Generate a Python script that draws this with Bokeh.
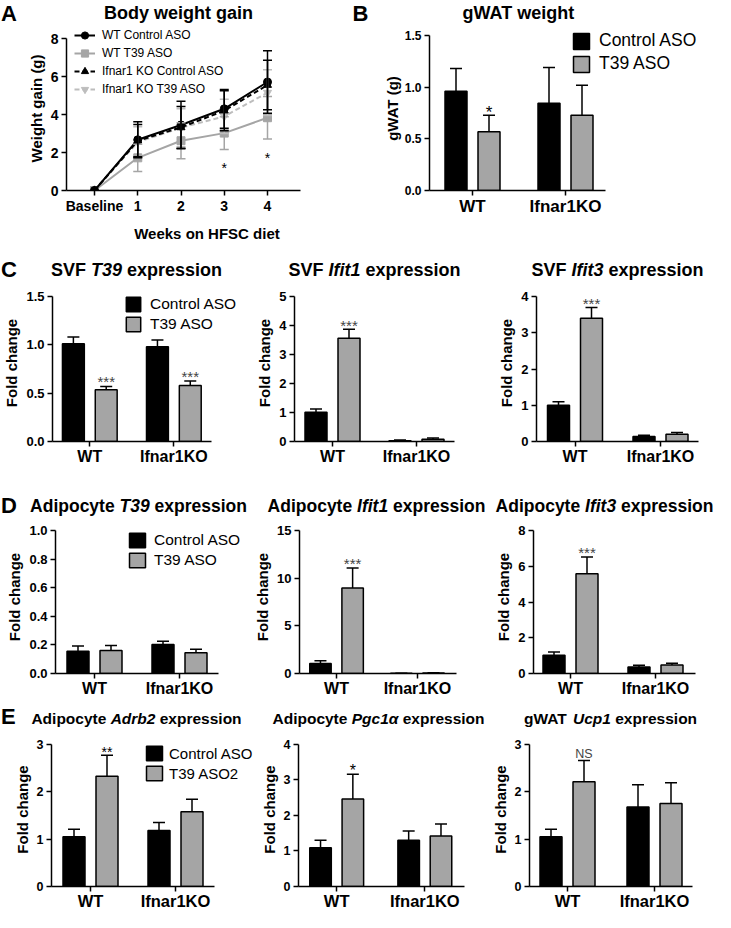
from bokeh.plotting import figure
from bokeh.layouts import column, row
from bokeh.models import (ColumnDataSource, Whisker, TeeHead, Label, Legend, LegendItem,
                          FixedTicker, PrintfTickFormatter, Range1d)
from bokeh.embed import file_html
from bokeh.resources import INLINE

FONT = "Liberation Sans"
GRAY = "#a5a5a5"
LGRAY = "#bdbdbd"
SIGC = "#444444"
PAGE_W = 715

# ---------------- data ----------------
groups = ["WT", "Ifnar1KO"]
treatments = ["Control ASO", "T39 ASO"]
treatments_e = ["Control ASO", "T39 ASO2"]

# Panel A: body weight gain (g)
weeks = ["Baseline", "1", "2", "3", "4"]
line_labels = ["WT Control ASO", "WT T39 ASO", "Ifnar1 KO Control ASO", "Ifnar1 KO T39 ASO"]
wt_ctrl_mean = [0, 2.67, 3.45, 4.30, 5.71]
wt_ctrl_err = [0, 0.95, 1.25, 1.02, 1.65]
wt_t39_mean = [0, 1.72, 2.62, 3.02, 3.83]
wt_t39_err = [0, 0.72, 0.95, 0.86, 1.12]
ko_ctrl_mean = [0, 2.62, 3.32, 4.20, 5.55]
ko_ctrl_err = [0, 0.85, 1.10, 1.05, 1.30]
ko_t39_mean = [0, 2.55, 3.30, 3.90, 5.15]
ko_t39_err = [0, 0.80, 1.00, 0.90, 1.20]
weeks_sig = ["", "", "", "*", "*"]

# Panel B: gWAT weight (g)
gwat_ctrl = [0.96, 0.845]
gwat_ctrl_err = [0.22, 0.345]
gwat_t39 = [0.568, 0.729]
gwat_t39_err = [0.16, 0.29]
gwat_sig = ["*", ""]

# Panel C: SVF expression (fold change)
svf_t39_ctrl = [1.01, 0.98]
svf_t39_ctrl_err = [0.07, 0.07]
svf_t39_t39 = [0.535, 0.58]
svf_t39_t39_err = [0.035, 0.045]
svf_t39_sig = ["***", "***"]

svf_ifit1_ctrl = [1.01, 0.03]
svf_ifit1_ctrl_err = [0.11, 0.02]
svf_ifit1_t39 = [3.56, 0.08]
svf_ifit1_t39_err = [0.31, 0.04]
svf_ifit1_sig = ["***", ""]

svf_ifit3_ctrl = [1.00, 0.14]
svf_ifit3_ctrl_err = [0.10, 0.03]
svf_ifit3_t39 = [3.40, 0.20]
svf_ifit3_t39_err = [0.30, 0.05]
svf_ifit3_sig = ["***", ""]

# Panel D: adipocyte expression (fold change)
adi_t39_ctrl = [0.155, 0.203]
adi_t39_ctrl_err = [0.038, 0.022]
adi_t39_t39 = [0.161, 0.145]
adi_t39_t39_err = [0.034, 0.024]
adi_t39_sig = ["", ""]

adi_ifit1_ctrl = [1.05, 0.02]
adi_ifit1_ctrl_err = [0.30, 0.01]
adi_ifit1_t39 = [8.96, 0.05]
adi_ifit1_t39_err = [2.10, 0.03]
adi_ifit1_sig = ["***", ""]

adi_ifit3_ctrl = [1.02, 0.37]
adi_ifit3_ctrl_err = [0.18, 0.09]
adi_ifit3_t39 = [5.58, 0.48]
adi_ifit3_t39_err = [0.94, 0.10]
adi_ifit3_sig = ["***", ""]

# Panel E
adrb2_ctrl = [1.05, 1.18]
adrb2_ctrl_err = [0.16, 0.17]
adrb2_t39 = [2.33, 1.58]
adrb2_t39_err = [0.44, 0.26]
adrb2_sig = ["**", ""]

pgc1a_ctrl = [1.09, 1.30]
pgc1a_ctrl_err = [0.21, 0.26]
pgc1a_t39 = [2.46, 1.42]
pgc1a_t39_err = [0.70, 0.34]
pgc1a_sig = ["*", ""]

ucp1_ctrl = [1.05, 1.68]
ucp1_ctrl_err = [0.16, 0.47]
ucp1_t39 = [2.21, 1.75]
ucp1_t39_err = [0.45, 0.44]
ucp1_sig = ["NS", ""]

# ---------------- helpers ----------------
HB = dict(zip(" ABCDEFGHIJKLMNOPQRSTUVWXYZ",
              [278, 722, 722, 722, 722, 667, 611, 778, 722, 278, 556, 722, 611, 833,
               722, 778, 667, 778, 722, 667, 611, 722, 667, 944, 667, 667, 611]))
HB.update(dict(zip("abcdefghijklmnopqrstuvwxyz",
                   [556, 611, 556, 611, 556, 333, 611, 611, 278, 278, 556, 278, 889,
                    611, 611, 611, 611, 389, 556, 333, 611, 556, 778, 556, 556, 500])))
for d in "0123456789":
    HB[d] = 556
HB["\u03b1"] = 620
HB["("] = 333
HB[")"] = 333


def tw(s, size):
    return sum(HB.get(c, 556) for c in s) * size / 1000.0


def make_fig(box, frame, xr, yr):
    """box: figure rectangle in page px; frame: (left, top, right, bottom) of the axes."""
    x0, y0, x1, y1 = box
    L, T, R, B = frame
    sx = (R - L) / (xr[1] - xr[0])
    sy = (B - T) / (yr[1] - yr[0])
    p = figure(width=x1 - x0, height=y1 - y0, title=None,
               x_range=Range1d(xr[0], xr[1] + (x1 - R) / sx),
               y_range=Range1d(yr[0], yr[1] + (T - y0) / sy),
               output_backend="svg", toolbar_location=None, tools="",
               min_border_left=L - x0, min_border_right=0,
               min_border_top=0, min_border_bottom=y1 - B)
    p.outline_line_color = None
    p.xgrid.visible = False
    p.ygrid.visible = False
    p.background_fill_color = "white"
    p.border_fill_color = "white"
    p.xaxis.bounds = tuple(xr)
    p.yaxis.bounds = tuple(yr)
    return p


def style_axis(ax, tick_size, standoff=3):
    ax.axis_line_width = 1.5
    ax.axis_line_color = "black"
    ax.major_tick_line_width = 1.5
    ax.major_tick_line_color = "black"
    ax.major_tick_out = 5
    ax.major_tick_in = 0
    ax.minor_tick_line_color = None
    ax.major_label_text_font = FONT
    ax.major_label_text_font_style = "bold"
    ax.major_label_text_font_size = tick_size
    ax.major_label_text_color = "black"
    ax.major_label_standoff = standoff
    ax.axis_label_text_font = FONT
    ax.axis_label_text_font_style = "bold"
    ax.axis_label_text_font_size = "15px"
    ax.axis_label_text_color = "black"
    ax.axis_label_standoff = 3


def header(y0, y1):
    h = figure(width=PAGE_W, height=y1 - y0, title=None,
               x_range=Range1d(8, 8 + PAGE_W), y_range=Range1d(-y1, -y0),
               x_axis_location=None, y_axis_location=None,
               output_backend="svg", toolbar_location=None, tools="",
               min_border_left=0, min_border_right=0, min_border_top=0, min_border_bottom=0)
    h.outline_line_color = None
    h.xgrid.visible = False
    h.ygrid.visible = False
    return h


def add_text(h, text, x, y, size, style="bold"):
    h.add_layout(Label(x=x, y=-y, text=text, text_font=FONT, text_font_size=f"{size}px",
                       text_font_style=style, text_align="left", text_baseline="middle",
                       text_color="black"))


def add_title(h, segs, cx, cy, size):
    sp = tw(" ", size)
    total = sum(tw(s, size) for s, _ in segs) + sp * (len(segs) - 1)
    x = cx - total / 2
    for s, it in segs:
        add_text(h, s, x, cy, size, style="bold italic" if it else "bold")
        x += tw(s, size) + sp


def bar_panel(box, frame, wt_px, ko_px, ymax, yticks, yfmt, ctrl, ctrl_err, t39, t39_err,
              sig, sig_style, tick_size, cat_size, cat_standoff,
              ylabel="Fold change", legend=None, leg_labels=treatments):
    L, T, R, B = frame
    s = (ko_px - wt_px) / 2.0
    xr = (1 - (wt_px - L) / s, 3 + (R - ko_px) / s)
    p = make_fig(box, frame, xr, (0, ymax))
    gx = [1 + 2 * i for i in range(len(groups))]
    off = 16.5 / s
    bw = 22.0 / s
    rends = []
    for vals, errs, color, sgn in [(ctrl, ctrl_err, "black", -1), (t39, t39_err, GRAY, 1)]:
        src = ColumnDataSource(dict(x=[g + sgn * off for g in gx], top=vals,
                                    upper=[v + e for v, e in zip(vals, errs)]))
        r = p.vbar(x="x", top="top", width=bw, source=src, fill_color=color,
                   line_color="black", line_width=1.5)
        p.add_layout(Whisker(source=src, base="x", upper="upper", lower="top",
                             line_width=1.5, line_color="black",
                             upper_head=TeeHead(size=12, line_width=1.5, line_color="black"),
                             lower_head=None, level="annotation"))
        rends.append(r)
    ssize, soff, scolor, sstyle = sig_style
    for i, sg in enumerate(sig):
        if sg:
            p.add_layout(Label(x=gx[i] + off, y=t39[i] + t39_err[i], y_offset=soff, text=sg,
                               text_font=FONT, text_font_size=f"{ssize}px",
                               text_font_style=sstyle, text_color=scolor,
                               text_align="center", text_baseline="alphabetic"))
    style_axis(p.xaxis[0], f"{cat_size}px", cat_standoff)
    style_axis(p.yaxis[0], f"{tick_size}px", 3)
    p.xaxis.ticker = FixedTicker(ticks=gx)
    p.xaxis.major_label_overrides = {g: name for g, name in zip(gx, groups)}
    p.yaxis.ticker = FixedTicker(ticks=yticks)
    p.yaxis.formatter = PrintfTickFormatter(format=yfmt)
    p.yaxis.axis_label = ylabel
    if legend is not None:
        vx, vy, gw, gh, spacing, stand, fsize = legend
        lg = Legend(items=[LegendItem(label=leg_labels[0], renderers=[rends[0]]),
                           LegendItem(label=leg_labels[1], renderers=[rends[1]])],
                    location=(vx, vy), glyph_width=gw, glyph_height=gh, label_height=gh,
                    spacing=spacing, label_standoff=stand, padding=0, margin=0,
                    border_line_color=None, background_fill_alpha=0,
                    label_text_font=FONT, label_text_font_size=f"{fsize}px",
                    label_text_color="black")
        p.add_layout(lg)
    return p


# ---------------- Row A/B ----------------
hAB = header(8, 34)
add_text(hAB, "A", 8.5, 21, 22)
add_title(hAB, [("Body weight gain", False)], 186, 20, 18)
add_text(hAB, "B", 360, 21, 22)
add_title(hAB, [("gWAT weight", False)], 527, 20, 18)

frA = (74, 46, 308, 198)
xs = list(range(len(weeks)))
sA = 43.25
pA = make_fig((8, 34, 355, 252), frA, (-(102 - 74) / sA, 4 + (308 - 275) / sA), (0, 8))
series = {
    line_labels[0]: (wt_ctrl_mean, wt_ctrl_err, "black", "solid", "circle", 8),
    line_labels[1]: (wt_t39_mean, wt_t39_err, GRAY, "solid", "square", 8),
    line_labels[2]: (ko_ctrl_mean, ko_ctrl_err, "black", "5 3", "triangle", 8),
    line_labels[3]: (ko_t39_mean, ko_t39_err, LGRAY, "5 3", "inverted_triangle", 8),
}
draw_order = [line_labels[1], line_labels[3], line_labels[2], line_labels[0]]
rendA = {}
for name in draw_order:
    m, e, c, dash, mk, ms = series[name]
    src = ColumnDataSource(dict(x=xs, y=m))
    lr = pA.line("x", "y", source=src, line_color=c, line_width=2, line_dash=dash)
    esrc = ColumnDataSource(dict(x=[x for x, ee in zip(xs, e) if ee > 0],
                                 lo=[mm - ee for mm, ee in zip(m, e) if ee > 0],
                                 hi=[mm + ee for mm, ee in zip(m, e) if ee > 0]))
    pA.add_layout(Whisker(source=esrc, base="x", upper="hi", lower="lo", line_color=c,
                          line_width=1.5,
                          upper_head=TeeHead(size=9, line_width=1.5, line_color=c),
                          lower_head=TeeHead(size=9, line_width=1.5, line_color=c),
                          level="annotation"))
    sr = pA.scatter("x", "y", source=src, marker=mk, size=ms, fill_color=c, line_color=c)
    rendA[name] = [lr, sr]
for i, sg in enumerate(weeks_sig):
    if sg:
        pA.add_layout(Label(x=xs[i], y=wt_t39_mean[i] - wt_t39_err[i], y_offset=-19, text=sg,
                            text_font=FONT, text_font_size="14px", text_color="black",
                            text_align="center", text_baseline="alphabetic"))
style_axis(pA.xaxis[0], "14px", 2)
style_axis(pA.yaxis[0], "14px", 3)
pA.xaxis.axis_label_standoff = 8
pA.xaxis.ticker = FixedTicker(ticks=xs)
pA.xaxis.major_label_overrides = {x: w for x, w in zip(xs, weeks)}
pA.yaxis.ticker = FixedTicker(ticks=[0, 2, 4, 6, 8])
pA.yaxis.formatter = PrintfTickFormatter(format="%d")
pA.xaxis.axis_label = "Weeks on HFSC diet"
pA.yaxis.axis_label = "Weight gain (g)"
legA = Legend(items=[LegendItem(label=n, renderers=rendA[n]) for n in line_labels],
              location=(8, 92), glyph_width=21, glyph_height=18, label_height=18, spacing=0,
              label_standoff=7, padding=0, margin=0, border_line_color=None,
              background_fill_alpha=0, label_text_font=FONT, label_text_font_size="12px",
              label_text_color="black")
pA.add_layout(legA)

frB = (437, 43, 613, 198)
pB = bar_panel((355, 34, 723, 252), frB, 480, 573, 1.5, [0, 0.5, 1.0, 1.5], "%.1f",
               gwat_ctrl, gwat_ctrl_err, gwat_t39, gwat_t39_err, gwat_sig,
               (17, 3, "black", "normal"), 12, 17, 1, ylabel="gWAT (g)",
               legend=(142, 116, 20, 20, 2, 8, 17.5))
pB.yaxis.axis_label_standoff = 1

# ---------------- Row C ----------------
hC = header(252, 292)
add_text(hC, "C", 8.5, 277, 22)
add_title(hC, [("SVF", False), ("T39", True), ("expression", False)], 144, 277, 18)
add_title(hC, [("SVF", False), ("Ifit1", True), ("expression", False)], 382, 277, 18)
add_title(hC, [("SVF", False), ("Ifit3", True), ("expression", False)], 625, 277, 18)

pC1 = bar_panel((8, 292, 248, 488), (59, 304, 219, 449), 96.5, 181, 1.5, [0, 0.5, 1.0, 1.5],
                "%.1f", svf_t39_ctrl, svf_t39_ctrl_err, svf_t39_t39, svf_t39_t39_err,
                svf_t39_sig, (15, 5, SIGC, "normal"), 13, 16, 1,
                legend=(72, 108, 18, 18, 2, 8, 15.5))
pC2 = bar_panel((248, 292, 490, 488), (302, 304, 462, 449), 340, 424, 5, [0, 1, 2, 3, 4, 5],
                "%d", svf_ifit1_ctrl, svf_ifit1_ctrl_err, svf_ifit1_t39, svf_ifit1_t39_err,
                svf_ifit1_sig, (15, 4, SIGC, "normal"), 13, 16, 1)
pC3 = bar_panel((490, 292, 723, 488), (544, 304, 706, 449), 582.5, 668, 4, [0, 1, 2, 3, 4],
                "%d", svf_ifit3_ctrl, svf_ifit3_ctrl_err, svf_ifit3_t39, svf_ifit3_t39_err,
                svf_ifit3_sig, (15, 4, SIGC, "normal"), 13, 16, 1)

# ---------------- Row D ----------------
hD = header(488, 528)
add_text(hD, "D", 8.5, 513, 22)
add_title(hD, [("Adipocyte", False), ("T39", True), ("expression", False)], 146, 513, 17.5)
add_title(hD, [("Adipocyte", False), ("Ifit1", True), ("expression", False)], 384, 513, 17.5)
add_title(hD, [("Adipocyte", False), ("Ifit3", True), ("expression", False)], 612, 513, 17.5)

pD1 = bar_panel((8, 528, 259, 710), (63, 538, 226, 681), 102, 187, 1.0,
                [0, 0.2, 0.4, 0.6, 0.8, 1.0], "%.1f", adi_t39_ctrl, adi_t39_ctrl_err,
                adi_t39_t39, adi_t39_t39_err, adi_t39_sig, (15, 4, SIGC, "normal"),
                13, 16, 1, legend=(72, 104, 20, 18, 2, 7, 15.5))
pD2 = bar_panel((259, 528, 500, 710), (302, 538, 463, 681), 340, 423, 15, [0, 5, 10, 15],
                "%d", adi_ifit1_ctrl, adi_ifit1_ctrl_err, adi_ifit1_t39, adi_ifit1_t39_err,
                adi_ifit1_sig, (15, 5, SIGC, "normal"), 13, 16, 1)
pD3 = bar_panel((500, 528, 723, 710), (541, 538, 703, 681), 578, 663, 8, [0, 2, 4, 6, 8],
                "%d", adi_ifit3_ctrl, adi_ifit3_ctrl_err, adi_ifit3_t39, adi_ifit3_t39_err,
                adi_ifit3_sig, (15, 4, SIGC, "normal"), 13, 16, 1)

# ---------------- Row E ----------------
hE = header(710, 740)
add_text(hE, "E", 8.5, 724, 22)
add_title(hE, [("Adipocyte", False), ("Adrb2", True), ("expression", False)], 144, 726, 15.5)
add_title(hE, [("Adipocyte", False), ("Pgc1\u03b1", True), ("expression", False)], 386, 726, 15.5)
add_title(hE, [("gWAT", False), ("Ucp1", True), ("expression", False)], 618, 726, 15.5)

pE1 = bar_panel((8, 740, 265, 920), (59, 752, 222, 895), 98, 183, 3, [0, 1, 2, 3], "%d",
                adrb2_ctrl, adrb2_ctrl_err, adrb2_t39, adrb2_t39_err, adrb2_sig,
                (14, 3, "black", "normal"), 12.5, 16.5, 0,
                legend=(93, 104, 20, 18, 2, 5, 15), leg_labels=treatments_e)
pE2 = bar_panel((265, 740, 495, 920), (302, 752, 472, 895), 341, 431, 4, [0, 1, 2, 3, 4], "%d",
                pgc1a_ctrl, pgc1a_ctrl_err, pgc1a_t39, pgc1a_t39_err, pgc1a_sig,
                (16, 4, "black", "normal"), 12.5, 16.5, 0)
pE3 = bar_panel((495, 740, 723, 920), (537, 752, 700, 895), 575, 662, 3, [0, 1, 2, 3], "%d",
                ucp1_ctrl, ucp1_ctrl_err, ucp1_t39, ucp1_t39_err, ucp1_sig,
                (12.5, 7, SIGC, "normal"), 12.5, 16.5, 0)

p = column(hAB, row(pA, pB, spacing=0),
           hC, row(pC1, pC2, pC3, spacing=0),
           hD, row(pD1, pD2, pD3, spacing=0),
           hE, row(pE1, pE2, pE3, spacing=0),
           spacing=0)

open("out.html", "w").write(file_html(p, INLINE))
